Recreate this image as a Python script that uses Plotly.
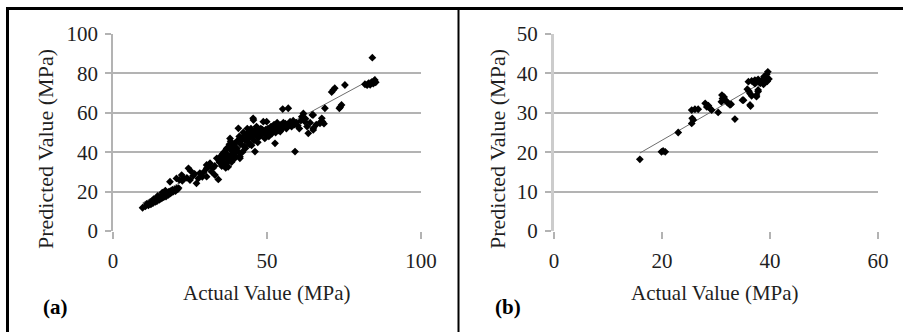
import numpy as np
import plotly.graph_objects as go

# ---------------- Data: panel (a) ----------------
actual_a = [
    9.6, 10.5, 11, 11.5, 12, 12.3, 12.8, 13, 13.5, 13.8, 14, 14.3, 14.6, 15, 15.2, 15.5, 15.8, 16, 16.2, 16.5,
    16.8, 17, 17.2, 17.5, 17.8, 18, 18.2, 18.5, 18.8, 19, 19.3, 19.6, 20, 20.3, 20.6, 21, 21.3, 16, 17, 14.5,
    13.2, 18.5, 20.6, 22.3, 21.5, 22.5,
    24.5, 25, 25.2, 24, 26, 27.1, 27.7, 28.2, 29, 30.4, 30.4, 31.5, 32, 30.4, 33.1, 34.2, 33.7, 32.5, 23, 26.5,
    29.5, 31, 33,
    34.5, 35, 35.3, 35.6, 36, 36, 36.3, 36.6, 37, 37, 37.4, 37.6, 37.8, 38, 38, 38.3, 38.5, 38.8, 39, 39.3,
    39.6, 40, 40.2, 40.5, 40.7, 41, 41.2, 41.2, 41.5, 42, 42.3, 42.6, 43, 43.3, 43.6, 44, 44.3, 44.6, 45, 45.3,
    45.6, 45.8, 46.1, 46.3, 46.6, 47, 47.3, 47.6, 48, 48.3, 48.8, 49, 49.3, 49.6, 50, 50.3, 50.6, 51, 51.3, 51.6,
    52, 52.3, 52.6, 52.8, 53, 53.3, 53.6, 54, 54.3, 54.6, 55, 55.1, 55.3, 55.6, 56, 56.3, 56.9, 57, 57.5, 58,
    58.5, 59, 59.1, 59.5, 60, 60.5, 61, 61.8, 62.3, 62.5, 63.4, 63, 64, 65, 65, 66, 67.2, 67.8, 68, 68.8,
    71, 71.5, 72, 73.5, 74.2, 73.8, 75.3, 81.8, 82.5, 83, 83.5, 84, 84.5, 85, 85.3, 84.2,
    36.8, 37.2, 39.8, 42, 43, 44, 39, 35.5, 38.2, 40.8, 41.8, 43.8, 44.8, 46, 47, 45,
    49.9, 45.5, 61.3, 64.7, 67.5, 68.5, 65, 50.5, 53.8, 56.5, 57.8, 48.5, 51.8, 54.8,
]
predicted_a = [
    11.8, 12.5, 13.8, 13, 14.5, 13.5, 15, 14.2, 15.5, 14.8, 16, 15.2, 16.8, 15.8, 17.2, 16.3, 17.8, 16.8, 18.5, 17.2,
    18, 19, 17.5, 18.6, 19.5, 18.3, 20, 19, 20.2, 19.5, 20.8, 20, 21, 20.3, 21.5, 21.2, 21.8, 19.5, 20.5, 17.8,
    16.2, 25, 26.7, 28.4, 26, 25.5,
    31.8, 25.9, 30.5, 27, 28, 24.2, 26.7, 29.4, 27.5, 31.8, 33.5, 34.4, 30.1, 27.6, 28.4, 26.2, 36.9, 32, 26.5, 29,
    30, 32.5, 33,
    35, 38, 33, 36, 40, 34, 37.5, 32, 39, 42, 32.6, 36, 44, 47, 38, 41, 35, 43, 39.5, 36.5,
    44.5, 41, 42, 46, 52.1, 48, 36.9, 37.7, 44, 47.5, 50, 43, 46, 49, 52, 47, 44, 50, 48, 51,
    56.3, 46, 40.3, 49, 53, 47.5, 50.5, 48, 52, 49, 55.5, 50, 47, 51.5, 49, 52, 48, 50.5, 53, 49.5,
    51, 54, 44.5, 50, 52.5, 55, 51, 53, 50.5, 54, 52, 61.9, 55, 53, 54.5, 52, 62.3, 54, 55.5, 53,
    56, 54, 40.3, 55, 53.5, 52, 56, 59.7, 55.5, 57, 49.6, 53, 55, 51.3, 58.9, 54, 54.7, 57.2, 55.5, 62.3,
    70.5, 71.6, 72.5, 62.3, 64, 63, 74.1, 74.5, 74, 75, 74.2, 75.5, 74.8, 76.7, 75.5, 88,
    41.5, 35, 38, 40, 42, 45, 42, 39, 45.5, 40, 46, 48.5, 52, 50.5, 45, 43.5,
    55.5, 57.2, 58, 58.9, 55.5, 54.5, 52.1, 51, 52.5, 53.5, 53.5, 51.5, 52.8, 53.5,
]

# ---------------- Data: panel (b) ----------------
actual_b = [
    15.9, 19.9, 20.2, 20.6, 23, 25.5, 25.8, 25.5, 26.1, 26.7, 28, 28.3, 28.9, 29.2, 30.4,
    31.1, 31.4, 31.7, 32, 32.3, 32.6, 31, 31.5, 33.5, 35.1, 36, 36.6, 37.2, 37.8, 38.5,
    39.1, 39.4, 36.3, 36.6, 36.3, 37.5, 37.8, 38.2, 38.8, 39.5, 38, 37.2, 35.8, 36.4, 34.9,
    37.5, 37.8, 39.6, 36.1, 25.6, 28.6, 31.2, 32.8, 38.9, 39.8,
]
predicted_b = [
    18.2, 20.1, 20.3, 20.1, 25, 27.3, 28.2, 30.7, 30.9, 30.9, 32.4, 31.5, 31.1, 30.7, 30.1,
    34.5, 33.7, 33.2, 32.8, 32.4, 32, 32.8, 34, 28.4, 33.2, 37.9, 38.1, 38.3, 38.5, 38.3,
    38.8, 39.8, 34.9, 34.3, 32, 34.5, 35.4, 37.5, 37.2, 38, 37.8, 37.4, 36, 31.7, 33.2,
    34.1, 35.8, 40.4, 35.5, 28.6, 31.8, 33.6, 32.2, 39.2, 38.6,
]

ticks_a_x = [0, 50, 100]
ticks_a_y = [0, 20, 40, 60, 80, 100]
ticks_b_x = [0, 20, 40, 60]
ticks_b_y = [0, 10, 20, 30, 40, 50]

# linear trendlines (least squares, as spreadsheet trendline)
ka, ba = np.polyfit(actual_a, predicted_a, 1)
kb, bb = np.polyfit(actual_b, predicted_b, 1)
tx_a = [min(actual_a), max(actual_a)]
tx_b = [min(actual_b), max(actual_b)]

W, H = 903, 332
FONT = "Liberation Serif, Times New Roman, serif"
GRID = "#b3b3b3"
TXT = "#1f1f1f"

fig = go.Figure()
fig.add_trace(go.Scatter(x=tx_a, y=[ka * v + ba for v in tx_a], mode="lines",
                         line=dict(color="#6e6e6e", width=1), xaxis="x", yaxis="y", hoverinfo="skip"))
fig.add_trace(go.Scatter(x=actual_a, y=predicted_a, mode="markers",
                         marker=dict(symbol="diamond", size=6, color="black"), xaxis="x", yaxis="y"))
fig.add_trace(go.Scatter(x=tx_b, y=[kb * v + bb for v in tx_b], mode="lines",
                         line=dict(color="#6e6e6e", width=1), xaxis="x2", yaxis="y2", hoverinfo="skip"))
fig.add_trace(go.Scatter(x=actual_b, y=predicted_b, mode="markers",
                         marker=dict(symbol="diamond", size=6, color="black"), xaxis="x2", yaxis="y2"))

def px(v):
    return v / W

def py(v):
    return 1 - v / H

ydom = [py(231), py(34)]
common_x = dict(showgrid=False, zeroline=False, showline=False, ticks="outside", ticklen=7,
                tickcolor=GRID, tickwidth=1.5, automargin=False, ticklabelstandoff=4,
                tickfont=dict(family=FONT, size=21, color=TXT))
common_y = dict(showgrid=True, gridcolor=GRID, gridwidth=1.5, zeroline=False, showline=True,
                linecolor=GRID, linewidth=1.5, ticks="outside", ticklen=6, tickcolor=GRID, tickwidth=1.5,
                automargin=False, ticklabelstandoff=3, tickfont=dict(family=FONT, size=21, color=TXT))

fig.update_layout(
    template="none",
    width=W, height=H, margin=dict(l=0, r=0, t=0, b=0, pad=0),
    paper_bgcolor="white", plot_bgcolor="white", showlegend=False,
    xaxis=dict(domain=[px(113), px(421)], range=[0, 100], tickvals=ticks_a_x, anchor="y", **common_x),
    yaxis=dict(domain=ydom, range=[0, 100], tickvals=ticks_a_y, anchor="x", **common_y),
    xaxis2=dict(domain=[px(554), px(878)], range=[0, 60], tickvals=ticks_b_x, anchor="y2", **common_x),
    yaxis2=dict(domain=ydom, range=[0, 50], tickvals=ticks_b_y, anchor="x2", **common_y),
)
fig.update_layout(yaxis2=dict(linecolor="#cccccc", linewidth=3))

ann = []
def add_text(x, y, text, size=21, angle=0, bold=False):
    ann.append(dict(x=px(x), y=py(y), xref="paper", yref="paper", text=f"<b>{text}</b>" if bold else text,
                    showarrow=False, textangle=angle, xanchor="center", yanchor="middle",
                    font=dict(family=FONT, size=size, color=TXT if not bold else "black")))

add_text(45, 149, "Predicted Value (MPa)", size=22, angle=-90)
add_text(267, 293, "Actual Value (MPa)", size=21)
add_text(55, 307, "(a)", size=21, bold=True)
add_text(497, 149, "Predicted Value (MPa)", size=22, angle=-90)
add_text(715, 293, "Actual Value (MPa)", size=21)
add_text(508, 307, "(b)", size=21, bold=True)
fig.update_layout(annotations=ann)

# panel borders
shapes = [
    dict(type="line", xref="paper", yref="paper", x0=px(6), x1=1, y0=py(8.5), y1=py(8.5),
         line=dict(color="black", width=3)),
    dict(type="line", xref="paper", yref="paper", x0=px(7.5), x1=px(7.5), y0=py(8.5), y1=0,
         line=dict(color="black", width=3)),
    dict(type="line", xref="paper", yref="paper", x0=px(458.5), x1=px(458.5), y0=py(8.5), y1=0,
         line=dict(color="black", width=2)),
]
fig.update_layout(shapes=shapes)

fig.write_html("out.html", config={"displayModeBar": False},
               post_script="document.body.style.margin='0';document.body.style.overflow='hidden';")
